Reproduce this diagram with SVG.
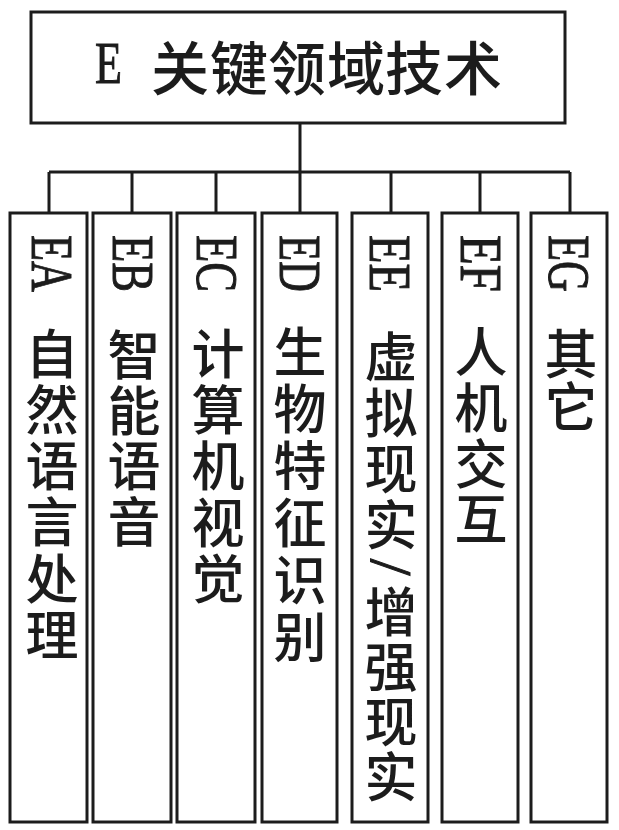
<svg xmlns="http://www.w3.org/2000/svg" width="619" height="830" viewBox="0 0 619 830">
<style>
.box{fill:#ffffff;stroke:#1c1c1c;stroke-width:3}
.conn{fill:none;stroke:#1c1c1c;stroke-width:3}
.cjk{font-family:"Noto Sans CJK SC","Noto Sans CJK TC",sans-serif;font-size:53px;font-weight:500;fill:#1c1c1c;text-anchor:middle;dominant-baseline:central}
.cjkt{font-family:"Noto Sans CJK SC","Noto Sans CJK TC",sans-serif;font-size:58px;font-weight:500;fill:#1c1c1c;text-anchor:middle;dominant-baseline:central}
.lat{font-family:"Liberation Serif","Times New Roman",serif;font-size:60px;fill:#1c1c1c;stroke:#1c1c1c;stroke-width:1}
</style>
<rect x="0" y="0" width="619" height="830" fill="#ffffff"/>
<g id="connectors">
<path class="conn" d="M300 123 V172 M49 172 H570 M49 172 V213 M132 172 V213 M216 172 V213 M300 172 V213 M391 172 V213 M480 172 V213 M570 172 V213"/>
</g>
<g id="E">
<rect class="box" x="31" y="12" width="534" height="111"/>
<text class="lat" x="95" y="83" font-size="57" textLength="27" lengthAdjust="spacingAndGlyphs">E</text>
<text class="cjkt" x="180 239 297 356 414 473" y="65 65 65 65 65 65">关键领域技术</text>
</g>
<g id="EA">
<rect class="box" x="10" y="213" width="77" height="609"/>
<text class="lat" transform="translate(32,235) rotate(90)" textLength="57" lengthAdjust="spacingAndGlyphs">EA</text>
<text class="cjk" x="52 52 52 52 52 52" y="351 407 463 519 576 632">自然语言处理</text>
</g>
<g id="EB">
<rect class="box" x="93" y="213" width="78" height="609"/>
<text class="lat" transform="translate(113,235) rotate(90)" textLength="57" lengthAdjust="spacingAndGlyphs">EB</text>
<text class="cjk" x="134 134 134 134" y="352 408 463 519">智能语音</text>
</g>
<g id="EC">
<rect class="box" x="177" y="213" width="78" height="609"/>
<text class="lat" transform="translate(197,235) rotate(90)" textLength="57" lengthAdjust="spacingAndGlyphs">EC</text>
<text class="cjk" x="218 218 218 218 218" y="351 407 463 520 576">计算机视觉</text>
</g>
<g id="ED">
<rect class="box" x="262" y="213" width="75" height="609"/>
<text class="lat" transform="translate(280,235) rotate(90)" textLength="57" lengthAdjust="spacingAndGlyphs">ED</text>
<text class="cjk" x="300 300 300 300 300 300" y="349 406 463 520 577 634">生物特征识别</text>
</g>
<g id="EE">
<rect class="box" x="352" y="213" width="76" height="609"/>
<text class="lat" transform="translate(370,235) rotate(90)" textLength="57" lengthAdjust="spacingAndGlyphs">EE</text>
<text class="cjk" x="391 391 391 391" y="354 410 466 522">虚拟现实</text>
<text class="lat" transform="translate(371,567) rotate(90)" text-anchor="middle">/</text>
<text class="cjk" x="391 391 391 391" y="609 664 719 774">增强现实</text>
</g>
<g id="EF">
<rect class="box" x="442" y="213" width="76" height="609"/>
<text class="lat" transform="translate(461,235) rotate(90)" textLength="57" lengthAdjust="spacingAndGlyphs">EF</text>
<text class="cjk" x="481 481 481 481" y="349 405 461 516">人机交互</text>
</g>
<g id="EG">
<rect class="box" x="531" y="213" width="76" height="609"/>
<text class="lat" transform="translate(549,235) rotate(90)" textLength="57" lengthAdjust="spacingAndGlyphs">EG</text>
<text class="cjk" x="571 571" y="351 404">其它</text>
</g>
</svg>
